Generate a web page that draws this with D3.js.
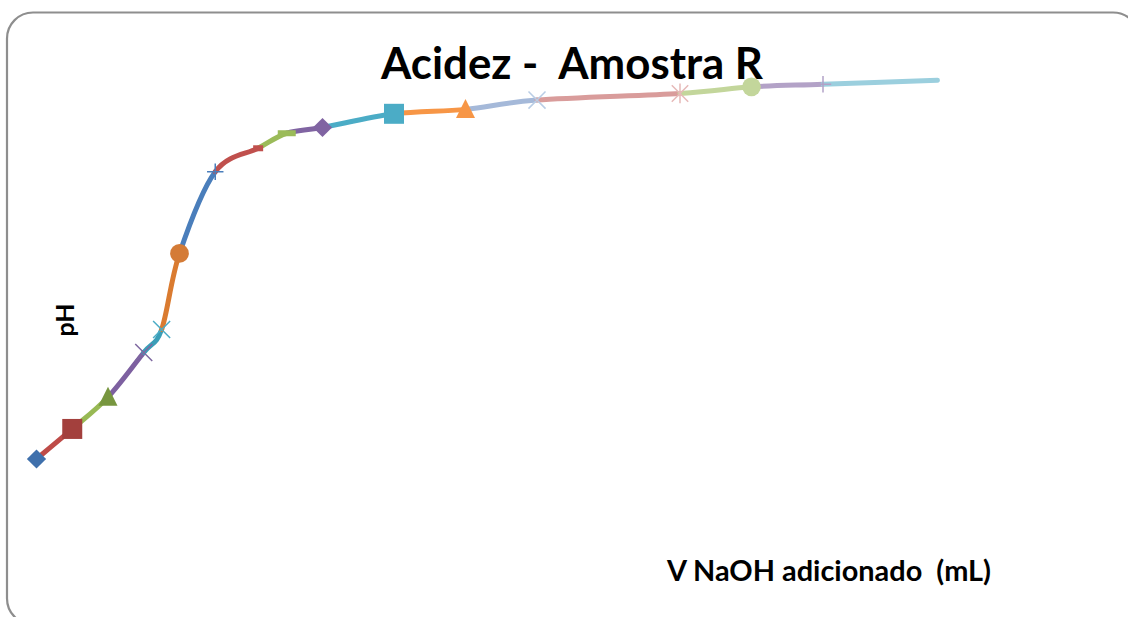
<!DOCTYPE html>
<html>
<head>
<meta charset="utf-8">
<script src="https://cdn.jsdelivr.net/npm/d3@7"></script>
<style>
  html, body { margin: 0; padding: 0; background: #ffffff; }
  svg { display: block; }
</style>
</head>
<body>
<svg id="chart" width="1128" height="617"></svg>
<script>
// Titration of sample R with NaOH: added volume (mL) and measured pH
const volume = [0, 0.5, 1.0, 1.5, 1.75, 2.0, 2.5, 3.1, 3.5, 4.0, 5.0, 6.0, 7.0, 9.0, 10.0, 11.0, 12.6];
const pH = [3.00, 3.68, 4.40, 5.41, 5.93, 7.65, 9.50, 10.03, 10.37, 10.50, 10.81, 10.91, 11.12, 11.27, 11.42, 11.48, 11.57];

const titleText = "Acidez -  Amostra R";
const xLabelText = "V NaOH adicionado  (mL)";
const yLabelText = "pH";

// One series per reading: marker shape / colour, and colour of the segment reaching it
const markerShape = ["diamond", "square", "triangle", "x", "x", "circle", "plus", "dash", "longdash",
                     "diamond", "square", "triangle", "x", "asterisk", "circle", "plus", "none"];
const markerColor = ["#3F70AC", "#A3403D", "#77963F", "#7E68A0", "#4BACC6", "#D47B36", "#4A7EBB", "#C0504D",
                     "#9BBB59", "#8064A2", "#4BACC6", "#F79646", "#B9CDE5", "#E6B9B8", "#C3D69B", "#B3A2C7", "none"];
const segmentColor = [null, "#BE4B48", "#98B954", "#7D60A0", "#3A9EB8", "#DA7B30", "#4A7EBB", "#C0504D",
                      "#9BBB59", "#8064A2", "#4BACC6", "#F79646", "#A5B9D9", "#D99C9B", "#C3D69B", "#B3A2C7", "#9BCFDE"];

const svg = d3.select("#chart");

// Chart area frame
svg.append("rect")
  .attr("x", 7).attr("y", 12.5)
  .attr("width", 1132).attr("height", 612)
  .attr("rx", 26).attr("ry", 26)
  .attr("fill", "#ffffff")
  .attr("stroke", "#8E8E8E")
  .attr("stroke-width", 2.2);

const x = d3.scaleLinear().domain([0, 12.6]).range([36.5, 937.4]);
const y = d3.scaleLinear().domain([2, 12]).range([503.2, 61.2]);

const pts = volume.map((v, i) => [x(v), y(pH[i])]);

// Smoothed segments (cardinal-style Bezier through neighbouring readings)
const t = 1 / 6;
function segmentPath(i) {
  const p0 = pts[Math.max(i - 1, 0)];
  const p1 = pts[i];
  const p2 = pts[i + 1];
  const p3 = pts[Math.min(i + 2, pts.length - 1)];
  const c1 = [p1[0] + (p2[0] - p0[0]) * t, p1[1] + (p2[1] - p0[1]) * t];
  const c2 = [p2[0] - (p3[0] - p1[0]) * t, p2[1] - (p3[1] - p1[1]) * t];
  const p = d3.path();
  p.moveTo(p1[0], p1[1]);
  p.bezierCurveTo(c1[0], c1[1], c2[0], c2[1], p2[0], p2[1]);
  return p.toString();
}

const segIdx = d3.range(0, pts.length - 1);
svg.append("g").selectAll("path")
  .data(segIdx)
  .join("path")
  .attr("d", i => segmentPath(i))
  .attr("fill", "none")
  .attr("stroke", i => segmentColor[i + 1])
  .attr("stroke-width", 5)
  .attr("stroke-linecap", "round");

// Marker shapes
const shapes = {
  diamond: { draw(c, s) { const r = Math.sqrt(s) / 2 * 1.414; c.moveTo(0, -r); c.lineTo(r, 0); c.lineTo(0, r); c.lineTo(-r, 0); c.closePath(); } },
  square: { draw(c, s) { const h = Math.sqrt(s) / 2; c.rect(-h, -h, 2 * h, 2 * h); } },
  triangle: { draw(c, s) { const w = Math.sqrt(s); c.moveTo(0, -w * 0.55); c.lineTo(w / 2, w * 0.45); c.lineTo(-w / 2, w * 0.45); c.closePath(); } },
  circle: { draw(c, s) { const r = Math.sqrt(s) / 2; c.moveTo(r, 0); c.arc(0, 0, r, 0, 2 * Math.PI); } },
  x: { draw(c, s) { const h = Math.sqrt(s) / 2; c.moveTo(-h, -h); c.lineTo(h, h); c.moveTo(h, -h); c.lineTo(-h, h); } },
  plus: { draw(c, s) { const h = Math.sqrt(s) / 2; c.moveTo(-h, 0); c.lineTo(h, 0); c.moveTo(0, -h); c.lineTo(0, h); } },
  asterisk: { draw(c, s) { const h = Math.sqrt(s) / 2; c.moveTo(-h, -h); c.lineTo(h, h); c.moveTo(h, -h); c.lineTo(-h, h); c.moveTo(0, -h * 1.2); c.lineTo(0, h * 1.2); } },
  dash: { draw(c, s) { c.rect(-5, -3, 10, 6); } },
  longdash: { draw(c, s) { c.rect(-9, -3, 18, 6); } }
};
const markerSize = { diamond: 185, square: 400, triangle: 360, circle: 350, x: 290, plus: 270, asterisk: 270, dash: 1, longdash: 1 };
const stroked = new Set(["x", "plus", "asterisk"]);

const markerIdx = d3.range(pts.length).filter(i => markerShape[i] !== "none");
svg.append("g").selectAll("path")
  .data(markerIdx)
  .join("path")
  .attr("transform", i => `translate(${pts[i][0]},${pts[i][1]})`)
  .attr("d", i => d3.symbol().type(shapes[markerShape[i]]).size(markerSize[markerShape[i]])())
  .attr("fill", i => stroked.has(markerShape[i]) ? "none" : markerColor[i])
  .attr("stroke", i => stroked.has(markerShape[i]) ? markerColor[i] : "none")
  .attr("stroke-width", 1.5);

// Titles
svg.append("text")
  .attr("x", 572).attr("y", 79)
  .attr("text-anchor", "middle")
  .attr("font-family", "Lato, 'Open Sans', sans-serif")
  .attr("font-weight", "bold")
  .attr("font-size", 43)
  .attr("textLength", 382)
  .attr("lengthAdjust", "spacingAndGlyphs")
  .style("white-space", "pre")
  .attr("fill", "#000")
  .text(titleText);

svg.append("text")
  .attr("x", 667).attr("y", 581)
  .attr("font-family", "Lato, 'Open Sans', sans-serif")
  .attr("font-weight", "bold")
  .attr("font-size", 28)
  .attr("textLength", 324)
  .attr("lengthAdjust", "spacingAndGlyphs")
  .style("white-space", "pre")
  .attr("fill", "#000")
  .text(xLabelText);

svg.append("text")
  .attr("transform", "translate(74,320) rotate(-90)")
  .attr("text-anchor", "middle")
  .attr("font-family", "Lato, 'Open Sans', sans-serif")
  .attr("font-weight", "bold")
  .attr("font-size", 25)
  .attr("fill", "#000")
  .text(yLabelText);
</script>
</body>
</html>
